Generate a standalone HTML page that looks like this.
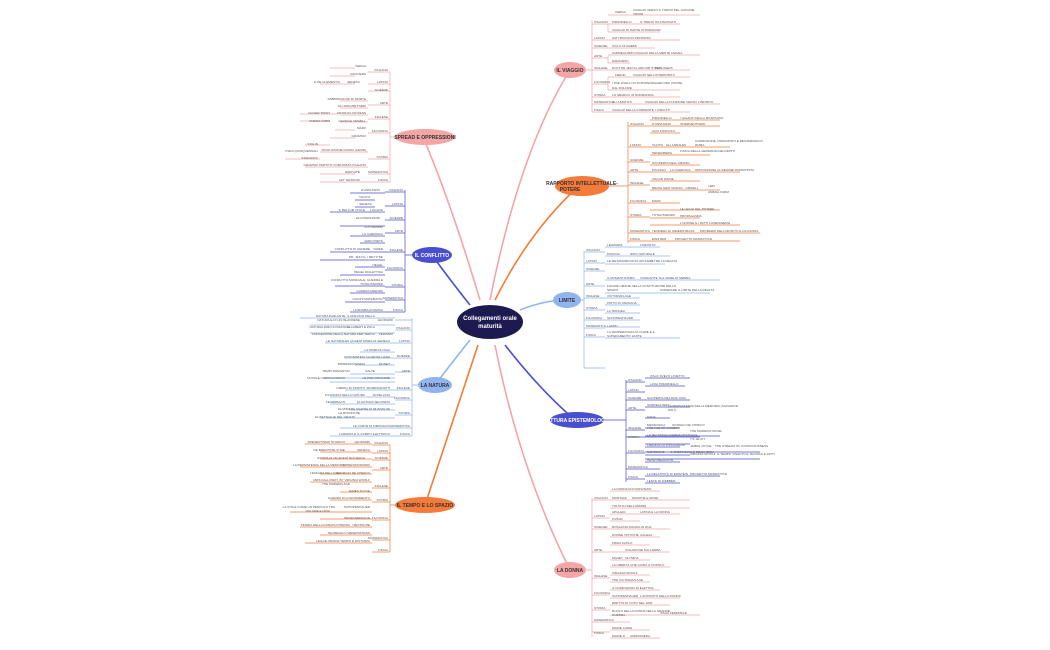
<!DOCTYPE html>
<html><head><meta charset="utf-8"><style>
html,body{margin:0;padding:0;background:#fff;width:1050px;height:650px;overflow:hidden}
svg text{font-family:"Liberation Sans",sans-serif;font-size:3.1px;fill:#555}
.n text{font-size:5px;font-weight:bold;fill:#333}
</style></head><body>
<svg width="1050" height="650" viewBox="0 0 1050 650" xmlns="http://www.w3.org/2000/svg">
<g fill="none" stroke-width="1.6">
<path d="M490 300 Q520 150 570 70" stroke="#f4a5a5"/>
<path d="M495 300 Q530 230 580 185" stroke="#f47b3a"/>
<path d="M520 310 Q545 300 567 300" stroke="#8fb4f0"/>
<path d="M505 345 Q540 390 575 420" stroke="#4a4fd0"/>
<path d="M495 345 Q520 470 570 570" stroke="#f4a5a5"/>
<path d="M480 300 Q450 200 423 137" stroke="#f4a5a5"/>
<path d="M470 305 Q450 280 432 255" stroke="#4a4fd0"/>
<path d="M470 340 Q450 365 435 385" stroke="#8fb4f0"/>
<path d="M478 345 Q450 430 425 505" stroke="#f47b3a"/>
</g>
<ellipse cx="490" cy="322" rx="33" ry="17" fill="#1c1a4f"/>
<text x="490" y="320" text-anchor="middle" style="font-size:6px;fill:#fff;font-weight:bold">Collegamenti orale</text>
<text x="490" y="328" text-anchor="middle" style="font-size:6px;fill:#fff;font-weight:bold">maturità</text>
<g class="n">
<ellipse cx="570" cy="70" rx="16" ry="8" fill="#f4a5a5"/><text x="570" y="72" text-anchor="middle">IL VIAGGIO</text>
<ellipse cx="582" cy="186" rx="27" ry="10" fill="#f47b3a"/><text x="582" y="185" text-anchor="middle">RAPPORTO INTELLETTUALE-</text><text x="570" y="191" text-anchor="middle">POTERE</text>
<ellipse cx="567" cy="300" rx="14" ry="8" fill="#8fb4f0"/><text x="567" y="302" text-anchor="middle">LIMITE</text>
<ellipse cx="577" cy="420" rx="27" ry="8" fill="#4a4fd0"/><text x="577" y="422" text-anchor="middle" style="fill:#fff">FRATTURA EPISTEMOLOGICA</text>
<ellipse cx="570" cy="570" rx="16" ry="8" fill="#f4a5a5"/><text x="570" y="572" text-anchor="middle">LA DONNA</text>
<ellipse cx="425" cy="137" rx="30" ry="8" fill="#f4a5a5"/><text x="425" y="139" text-anchor="middle">SPREAD E OPPRESSIONI</text>
<ellipse cx="432" cy="255" rx="20" ry="8" fill="#4a4fd0"/><text x="432" y="257" text-anchor="middle" style="fill:#fff">IL CONFLITTO</text>
<ellipse cx="435" cy="385" rx="17" ry="8" fill="#8fb4f0"/><text x="435" y="387" text-anchor="middle">LA NATURA</text>
<ellipse cx="425" cy="505" rx="30" ry="8" fill="#f47b3a"/><text x="425" y="507" text-anchor="middle">IL TEMPO E LO SPAZIO</text>
</g>

<g stroke="#f4a5a5" stroke-width=".7" fill="none">
<path d="M586 70 H592 M592 20 V112"/>
<path d="M592 24 H608 M592 40 H608 M592 48 H608 M592 58 H608 M592 70 H608 M592 84 H608 M592 97 H608 M592 104 H608 M592 112 H608"/>
<path d="M608 24 V32 M608 15 H700 M608 24 H680 M608 32 H660 M608 40 H680 M608 48 H655 M608 55 H700 M608 63 H630 M608 70 H690 M608 77 H690 M608 90 H680 M608 97 H680 M608 104 H720 M608 112 H690 M608 56 V63 M608 77 V90"/>
</g>
<text x="594" y="23">ITALIANO</text><text x="615" y="13">VERGA</text><text x="633" y="11">VIAGGIO VERSO IL TORNO DEL GIOVANE</text><text x="633" y="15">'NTONI</text>
<text x="612" y="23">PIRANDELLO</text><text x="640" y="23">IL TRENO HA FISCHIATO</text><text x="612" y="31">VIAGGIO DI DANTE IN PARADISO</text>
<text x="594" y="39">LATINO</text><text x="612" y="39">SATYRICON DI PETRONIO</text>
<text x="594" y="47">SCIENZE</text><text x="612" y="47">CICLO DI KREBS</text>
<text x="594" y="57">ARTE</text><text x="612" y="54">SURREALISMO</text><text x="635" y="54">VIAGGIO DELLA MENTE UMANA</text><text x="612" y="62">DADAISMO</text>
<text x="594" y="69">INGLESE</text><text x="612" y="69">DOCTOR JEKYLL AND MR HYDE</text><text x="655" y="69">DUBLINERS</text>
<text x="594" y="83">FILOSOFIA</text><text x="615" y="76">FREUD</text><text x="633" y="76">VIAGGIO NELL'INTERIORITÀ</text><text x="612" y="84">I TRE LIVELLI DI SCHOPENHAUER PER USCIRE</text><text x="612" y="89">DAL DOLORE</text>
<text x="594" y="96">STORIA</text><text x="612" y="96">LO SBARCO IN NORMANDIA</text>
<text x="594" y="103">MATEMATICA</text><text x="612" y="103">GLI ASINTOTI</text><text x="645" y="103">VIAGGIO DELLA FUNZIONE VERSO L'INFINITO</text>
<text x="594" y="111">FISICA</text><text x="612" y="111">VIAGGIO DELLA CORRENTE</text><text x="655" y="111">I CIRCUITI</text>

<g stroke="#f47b3a" stroke-width=".7" fill="none">
<path d="M608 186 H628 M628 122 V243"/>
<path d="M628 126 H650 M628 147 H650 M628 162 H650 M628 172 H650 M628 185 H650 M628 203 H650 M628 217 H650 M628 233 H650 M628 241 H650"/>
<path d="M650 120 H720 M650 126 H720 M650 133 H680 M650 147 H730 M650 155 H710 M650 165 H700 M650 172 H740 M650 181 H700 M650 190 H720 M650 203 H680 M650 210 H720 M650 218 H700 M650 225 H740 M650 233 H760 M650 241 H740"/>
</g>
<text x="630" y="125">ITALIANO</text><text x="652" y="119">PIRANDELLO</text><text x="680" y="119">I GIGANTI DELLA MONTAGNA</text><text x="652" y="125">D'ANNUNZIO</text><text x="680" y="125">INTERVENTISMO</text><text x="652" y="132">UGO FOSCOLO</text>
<text x="630" y="146">LATINO</text><text x="652" y="146">TACITO</text><text x="666" y="146">GLI ANNALES</text><text x="695" y="142">CORRUZIONE, PRINCIPATO E DECADENZA DI</text><text x="695" y="146">ROMA</text>
<text x="630" y="161">SCIENZE</text><text x="652" y="154">HEISENBERG</text><text x="680" y="152">FISICA DELLA GERMANIA DEI DIRITTI</text><text x="652" y="164">SCOPERTA DELL'URANIO</text>
<text x="630" y="171">ARTE</text><text x="652" y="171">PICASSO</text><text x="670" y="171">LA GUERNICA</text><text x="695" y="171">OPPOSIZIONE AL REGIME FRANCHISTA</text>
<text x="630" y="184">INGLESE</text><text x="652" y="180">OSCAR WILDE</text><text x="652" y="189">BRAVE NEW WORLD - ORWELL</text><text x="708" y="187">1984</text><text x="708" y="193">ANIMAL FARM</text>
<text x="630" y="202">FILOSOFIA</text><text x="652" y="202">MARX</text>
<text x="630" y="216">STORIA</text><text x="652" y="216">TOTALITARISMI</text><text x="680" y="210">LE LEGGI DEL POTERE</text><text x="680" y="217">PROPAGANDA</text><text x="680" y="224">L'UNIONE E I PATTI LATERANENSI</text>
<text x="630" y="232">MATEMATICA</text><text x="652" y="232">TEOREMA DI WEIERSTRASS</text><text x="700" y="232">PROBLEMI DELL'INFINITO E FILOSOFIA</text>
<text x="630" y="240">FISICA</text><text x="652" y="240">EINSTEIN</text><text x="675" y="240">PROGETTO MANHATTAN</text>

<g stroke="#8fb4f0" stroke-width=".7" fill="none">
<path d="M581 300 H584 M584 251 V368"/>
<path d="M584 252 H605 M584 263 H605 M584 271 H605 M584 286 H605 M584 298 H605 M584 310 H605 M584 320 H605 M584 328 H605 M584 337 H605 M584 368 H605"/>
<path d="M605 247 H660 M605 256 H670 M605 264 H665 M605 280 H720 M605 293 H710 M605 298 H640 M605 305 H640 M605 313 H640 M605 320 H640 M605 327 H640 M605 338 H680"/>
</g>
<text x="586" y="251">ITALIANO</text><text x="607" y="246">LEOPARDI</text><text x="640" y="246">L'INFINITO</text><text x="607" y="255">PASCOLI</text><text x="630" y="255">NIDO NATURALE</text>
<text x="586" y="262">LATINO</text><text x="607" y="262">LE METAMORFOSI DI APULEIO</text><text x="650" y="262">OLTRE LA REALTÀ</text>
<text x="586" y="270">SCIENZE</text>
<text x="586" y="285">ARTE</text><text x="607" y="279">IL ROMANTICISMO</text><text x="640" y="279">VIANDANTE SUL MARE DI NEBBIA</text><text x="607" y="287">FIGURE UMANE NELLA COSTITUZIONE DELLO</text><text x="607" y="291">SPAZIO</text><text x="660" y="291">SUPERARE IL LIMITE DELLA REALTÀ</text>
<text x="586" y="297">INGLESE</text><text x="607" y="297">VICTORIAN AGE</text>
<text x="586" y="309">STORIA</text><text x="607" y="304">PATTO DI VARSAVIA</text><text x="607" y="312">LA TRINCEA</text>
<text x="586" y="319">FILOSOFIA</text><text x="607" y="319">SCHOPENHAUER</text>
<text x="586" y="327">MATEMATICA</text><text x="607" y="327">I LIMITI</text>
<text x="586" y="336">FISICA</text><text x="607" y="333">LA TEMPERATURA DI CURIE E IL</text><text x="607" y="337">SUPERAMENTO LIMITE</text>

<g stroke="#4a4fd0" stroke-width=".7" fill="none">
<path d="M604 420 H626 M626 380 V482"/>
<path d="M626 382 H645 M626 392 H645 M626 400 H645 M626 410 H645 M626 430 H645 M626 437 H645 M626 453 H645 M626 469 H645 M626 479 H645"/>
<path d="M645 378 H690 M645 386 H685 M645 400 H690 M645 407 H690 M645 418 H670 M645 428 H680 M645 436 H720 M645 444 H690 M645 452 H760 M645 459 H760 M645 437 H700 M645 447 H680 M645 455 H690 M645 462 H680 M645 469 H660 M645 476 H720 M645 483 H680"/>
</g>
<text x="628" y="381">ITALIANO</text><text x="650" y="377">ITALO SVEVO L'INETTO</text><text x="650" y="385">LUIGI PIRANDELLO</text>
<text x="628" y="391">LATINO</text><text x="628" y="399">SCIENZE</text><text x="647" y="399">SCOPERTA DEL DNA: RNA</text>
<text x="628" y="409">ARTE</text><text x="647" y="406">SURREALISMO</text><text x="668" y="407">LA PERSISTENZA DELLA MEMORIA (SALVADOR</text><text x="668" y="411">DALÍ)</text><text x="647" y="418">DADA</text><text x="647" y="426">METAFISICA</text><text x="672" y="426">GIORGIO DE CHIRICO</text>
<text x="628" y="429">INGLESE</text><text x="647" y="429">THE AGE OF ANXIETY</text><text x="690" y="432">THE MODERN NOVEL</text><text x="690" y="440">T.S. ELIOT</text><text x="690" y="447">JAMES JOYCE</text><text x="715" y="447">THE STREAM OF CONSCIOUSNESS</text><text x="690" y="455">VIRGINIA WOOLF</text><text x="717" y="455">IL TEMPO VISSUTO E TECNICA E FATTI</text>
<text x="628" y="438">STORIA</text><text x="647" y="436">LA SECONDA GUERRA MONDIALE</text>
<text x="628" y="452">FILOSOFIA</text><text x="647" y="446">FREUD E LA PSICANALISI</text><text x="647" y="453">NIETZSCHE</text><text x="670" y="453">IL CREPUSCOLO DEGLI IDOLI</text><text x="647" y="461">HENRI BERGSON</text>
<text x="628" y="468">MATEMATICA</text><text x="628" y="478">FISICA</text><text x="647" y="475">LA RELATIVITÀ DI EINSTEIN</text><text x="690" y="475">PROGETTO MANHATTAN</text><text x="647" y="482">LENTE DI WEBBER</text>

<g stroke="#f4a5a5" stroke-width=".7" fill="none">
<path d="M586 570 H592 M592 498 V637"/>
<path d="M592 500 H610 M592 518 H610 M592 529 H610 M592 552 H610 M592 578 H610 M592 595 H610 M592 610 H610 M592 622 H610 M592 632 H610"/>
<path d="M610 491 H660 M610 500 H690 M610 508 H690 M610 514 H680 M610 521 H640 M610 529 H670 M610 537 H660 M610 545 H650 M610 552 H670 M610 560 H650 M610 567 H670 M610 575 H650 M610 582 H650 M610 590 H660 M610 598 H680 M610 605 H670 M610 615 H700 M610 622 H630 M610 630 H650 M610 638 H660"/>
</g>
<text x="612" y="490">LA DONNA DI D'ANNUNZIO</text>
<text x="594" y="499">ITALIANO</text><text x="612" y="499">MONTALE</text><text x="632" y="499">MOSCHE E MUSE</text><text x="612" y="507">TOLSTOJ DELL'AMORE</text>
<text x="594" y="517">LATINO</text><text x="612" y="513">APULEIO</text><text x="640" y="513">LATINA E LA DONNA</text><text x="612" y="520">OVIDIO</text>
<text x="594" y="528">SCIENZE</text><text x="612" y="528">ROSALIND FRANKLIN</text><text x="645" y="528">DNA</text>
<text x="612" y="536">DONNE TATTICHE</text><text x="640" y="536">GALEAZ</text><text x="612" y="544">FRIDA KAHLO</text>
<text x="594" y="551">ARTE</text><text x="625" y="551">COLAZIONE SULL'ERBA</text><text x="612" y="559">MANET</text><text x="625" y="559">OLYMPIA</text><text x="612" y="566">LA LIBERTÀ CHE GUIDA IL POPOLO</text>
<text x="594" y="577">INGLESE</text><text x="612" y="574">VIRGINIA WOOLF</text><text x="612" y="581">THE VICTORIAN AGE</text>
<text x="594" y="594">FILOSOFIA</text><text x="612" y="589">IL COMPLESSO DI ELETTRA</text><text x="612" y="597">SCHOPENHAUER</text><text x="640" y="597">L'ANTIDOTO DELLA DONNA</text>
<text x="594" y="609">STORIA</text><text x="612" y="604">DIRITTO DI VOTO NEL 1946</text><text x="612" y="612">RUOLO DELLA DONNA NELLA GRANDE</text><text x="612" y="616">GUERRA</text><text x="660" y="614">ITALIA FEMMINILE</text>
<text x="594" y="621">MATEMATICA</text>
<text x="594" y="634">FISICA</text><text x="612" y="629">MARIE CURIE</text><text x="612" y="637">MARIE R.</text><text x="630" y="637">ANDROMEDA</text>

<g stroke="#f4a5a5" stroke-width=".7" fill="none">
<path d="M395 137 H390 M390 72 V182"/>
<path d="M390 72 H368 M390 84 H368 M390 91 H368 M390 105 H368 M390 119 H368 M390 133 H368 M390 159 H368 M390 174 H368 M390 182 H368"/>
<path d="M355 68 H330 M355 76 H330 M355 84 H320 M368 101 H340 M368 108 H340 M340 114 H300 M368 115 H340 M330 121 H300 M368 122 H340 M355 130 H335 M355 138 H330 M330 145 H305 M368 152 H320 M320 159 H285 M320 167 H305 M368 167 H320 M355 174 H320 M355 182 H320 M368 182 H355"/>
</g>
<g text-anchor="end">
<text x="388" y="71">ITALIANO</text><text x="366" y="67">VERGA</text><text x="366" y="75">PANCIERA</text>
<text x="388" y="83">LATINO</text><text x="360" y="83">SENECA</text><text x="340" y="83">IL DE CLEMENTIA</text>
<text x="388" y="91">SCIENZE</text>
<text x="388" y="104">ARTE</text><text x="366" y="100">FABBRICATORI DI MORTE</text><text x="366" y="107">GLI SPAGHETTIERI</text>
<text x="388" y="118">INGLESE</text><text x="366" y="114">CHARLES DICKENS</text><text x="330" y="114">OLIVER TWIST</text><text x="366" y="122">GEORGE ORWELL</text><text x="330" y="122">ANIMAL FARM</text>
<text x="388" y="132">FILOSOFIA</text><text x="366" y="129">MARX</text><text x="366" y="137">GRAMSCI</text>
<text x="388" y="158">STORIA</text><text x="366" y="151">RIVOLUZIONE RUSSA (LENIN)</text><text x="318" y="145">STALIN</text><text x="318" y="152">PIANI QUINQUENNALI</text><text x="318" y="159">STAKANOV</text><text x="366" y="166">PARTITO COMUNISTA ITALIANO</text><text x="318" y="166">GRAMSCI</text>
<text x="388" y="173">MATEMATICA</text><text x="360" y="173">DERIVATE</text>
<text x="388" y="181">FISICA</text><text x="360" y="181">LET TENSIONI</text>
</g>

<g stroke="#4a4fd0" stroke-width=".7" fill="none">
<path d="M412 255 H405 M405 190 V312"/>
<path d="M405 192 H385 M405 206 H385 M405 220 H385 M405 233 H385 M405 252 H385 M405 270 H385 M405 287 H385 M405 300 H385 M405 312 H385"/>
<path d="M385 193 H350 M385 212 H330 M375 200 H355 M375 207 H355 M385 226 H340 M385 236 H350 M385 243 H360 M385 252 H330 M385 260 H320 M385 267 H355 M385 275 H340 M385 286 H335 M385 293 H350 M385 302 H345 M385 312 H350"/>
</g>
<g text-anchor="end">
<text x="403" y="191">ITALIANO</text><text x="380" y="191">D'ANNUNZIO</text>
<text x="403" y="205">LATINO</text><text x="370" y="198">TACITO</text><text x="372" y="205">SENECA</text><text x="383" y="211">LUCANO</text><text x="365" y="211">IL BELLUM CIVILE</text>
<text x="403" y="219">SCIENZE</text><text x="380" y="219">LE INTERAZIONI</text>
<text x="403" y="232">ARTE</text><text x="383" y="228">FUTURISMO</text><text x="383" y="235">LA GUERNICA</text>
<text x="403" y="251">INGLESE</text><text x="383" y="242">WAR POETS</text><text x="383" y="250">OWEN</text><text x="370" y="250">CONFLITTO DI GENERE</text><text x="383" y="258">DR. JEKYLL / MR HYDE</text>
<text x="403" y="269">FILOSOFIA</text><text x="383" y="266">HEGEL</text><text x="383" y="273">HEGEL DIALETTICA</text>
<text x="403" y="286">STORIA</text><text x="383" y="281">CONFLITTO MONDIALE, GUERRA E</text><text x="383" y="285">TOTALITARISMI</text><text x="383" y="292">GUERRA FREDDA</text>
<text x="403" y="299">MATEMATICA</text><text x="383" y="300">GIOCHI MATEMATICI</text>
<text x="403" y="311">FISICA</text><text x="383" y="311">LA BOMBA ATOMICA</text>
</g>

<g stroke="#8fb4f0" stroke-width=".7" fill="none">
<path d="M418 385 H412 M412 318 V436"/>
<path d="M412 320 H395 M412 330 H395 M412 343 H395 M412 358 H395 M412 372 H395 M412 390 H395 M412 400 H395 M412 415 H395 M412 428 H395 M412 436 H395"/>
<path d="M395 318 H300 M395 325 H310 M395 333 H310 M395 343 H325 M395 352 H360 M395 358 H345 M395 365 H355 M395 374 H350 M395 378 H320 M395 382 H330 M395 390 H345 M395 397 H330 M395 404 H330 M395 410 H350 M395 418 H320 M395 428 H340 M395 436 H330"/>
</g>
<g text-anchor="end">
<text x="393" y="321">LEOPARDI</text><text x="375" y="317">NATURA PARLANTE, IL DIALOGO DELLA</text><text x="360" y="321">NATURA E DI UN ISLANDESE</text>
<text x="410" y="329">ITALIANO</text><text x="375" y="328">FLAUBERT E ZOLA</text><text x="350" y="328">NATURALISMO IN FRANCIA</text><text x="375" y="335">CONCEZIONE DELLA NATURA PER VERGA</text><text x="393" y="335">VERISMO</text>
<text x="410" y="342">LATINO</text><text x="390" y="342">LE NATURALES QUAESTIONES DI SENECA</text>
<text x="410" y="357">SCIENZE</text><text x="390" y="351">LA MORFOLOGIA</text><text x="390" y="358">FOTOSINTESI CLOROFILLIANA</text>
<text x="410" y="372">ARTE</text><text x="390" y="365">MONET</text><text x="365" y="365">IMPRESSIONISMO</text><text x="375" y="372">SALVE</text><text x="350" y="372">TEMPI ROMANTICI</text><text x="390" y="379">LE PRE-ROMANZE</text><text x="345" y="379">NEOCLASSICO</text><text x="320" y="379">NUVOLE</text>
<text x="410" y="389">INGLESE</text><text x="390" y="389">WORDSWORTH</text><text x="365" y="389">LIBERO DI SPIRITO</text>
<text x="410" y="399">FILOSOFIA</text><text x="390" y="396">SCHELLING</text><text x="365" y="396">FILOSOFIA DELLA NATURA</text><text x="390" y="403">LA NATURA SECONDO</text><text x="345" y="403">FEUERBACH</text>
<text x="410" y="414">STORIA</text><text x="390" y="410">LE MINIERE MARINE DI MUSSOLINI</text><text x="360" y="414">LE BONIFICHE</text><text x="355" y="418">LE BATTAGLIE DEL GRANO</text>
<text x="410" y="427">MATEMATICA</text><text x="390" y="427">LE CURVE DI FIBONACCI</text>
<text x="410" y="435">FISICA</text><text x="390" y="435">L'ARMATA E IL CAMPO ELETTRICO</text>
</g>

<g stroke="#f47b3a" stroke-width=".7" fill="none">
<path d="M395 505 H390 M390 445 V552"/>
<path d="M390 445 H372 M390 453 H372 M390 460 H372 M390 470 H372 M390 488 H372 M390 502 H372 M390 520 H372 M390 540 H372 M390 552 H372"/>
<path d="M372 444 H305 M372 452 H320 M372 459 H320 M372 467 H300 M372 474 H320 M372 482 H310 M372 492 H340 M372 500 H330 M372 512 H290 M372 519 H320 M372 527 H300 M372 535 H320 M372 543 H305"/>
</g>
<g text-anchor="end">
<text x="388" y="444">ITALIANO</text><text x="370" y="443">LEOPARDI</text><text x="345" y="443">PRESENTISMO STORICO</text>
<text x="388" y="452">LATINO</text><text x="370" y="451">SENECA</text><text x="345" y="451">DE BREVITATE VITAE</text>
<text x="388" y="459">SCIENZE</text><text x="365" y="459">STORIA DI UN ACIDO NUCLEICO</text>
<text x="388" y="469">ARTE</text><text x="370" y="466">IMPRESSIONISMO</text><text x="345" y="466">LA PERSISTENZA DELLA MEMORIA</text><text x="370" y="474">GIORGIO DE CHIRICO</text><text x="340" y="474">L'ENIGMA DELL'ORA</text>
<text x="388" y="487">INGLESE</text><text x="370" y="481">MRS DALLOWAY, BY VIRGINIA WOOLF</text><text x="350" y="485">THE MODERN AGE</text><text x="370" y="492">JAMES JOYCE</text>
<text x="388" y="501">STORIA</text><text x="370" y="499">GUERRA DI LOGORAMENTO</text>
<text x="388" y="519">FILOSOFIA</text><text x="370" y="508">SCHOPENHAUER</text><text x="335" y="508">LA VITA È COME UN PENDOLO TRA</text><text x="330" y="512">DOLORE E NOIA</text><text x="370" y="519">HENRI BERGSON</text><text x="350" y="526">TEORIA DELLA DURATA INTERNA</text><text x="370" y="526">NIETZSCHE</text>
<text x="388" y="539">MATEMATICA</text><text x="370" y="534">TEOREMA DI WEIERSTRASS</text><text x="370" y="542">LEGGE ORARIA TEMPO E DISTANZA</text>
<text x="388" y="551">FISICA</text>
</g>
</svg>
</body></html>
